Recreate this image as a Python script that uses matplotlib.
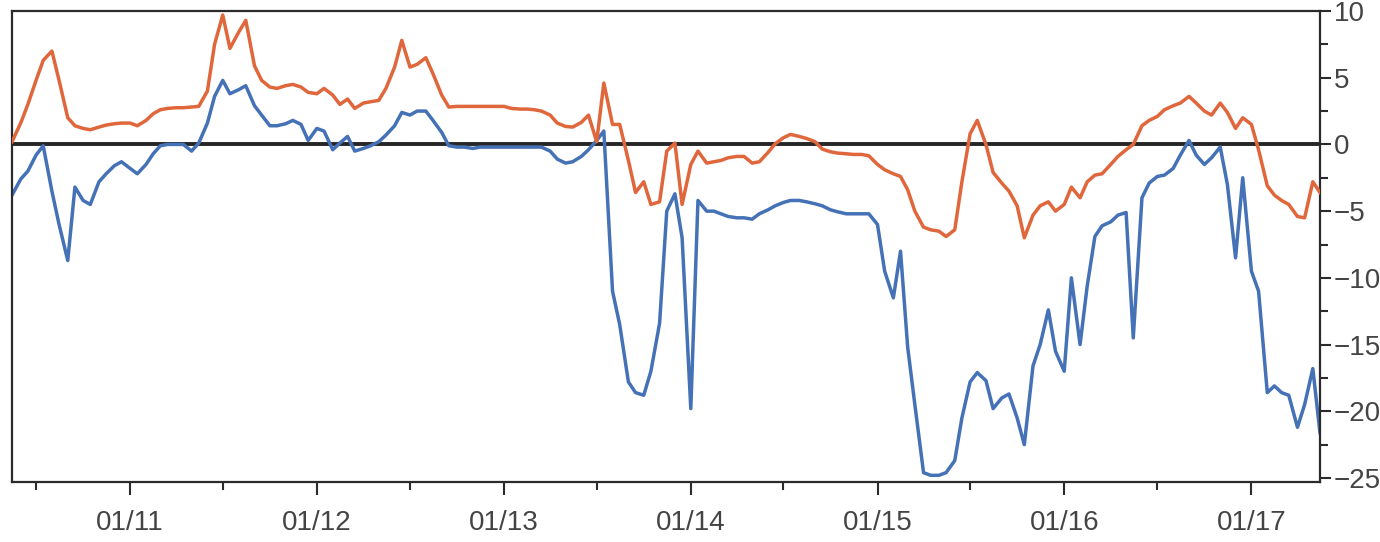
import numpy as np
import pandas as pd
import matplotlib
matplotlib.use('Agg')
import matplotlib.pyplot as plt
import matplotlib.dates as mdates
from matplotlib.ticker import MultipleLocator
from matplotlib import font_manager

# ---- data (semi-monthly readings, May 2010 - May 2017) ----
start_date = '2010-05-15'
end_date = '2017-05-15'

orange = [
    0.2, 1.6, 3.0, 4.8, 6.3, 7.0, 4.8, 2.0, 1.4, 1.2,
    1.1, 1.3, 1.45, 1.55, 1.6, 1.6, 1.4, 1.8, 2.3, 2.6,
    2.7, 2.75, 2.75, 2.8, 2.85, 4.0, 7.5, 9.7, 7.2, 8.4,
    9.3, 5.9, 4.8, 4.3, 4.2, 4.4, 4.5, 4.3, 3.9, 3.8,
    4.2, 3.7, 3.0, 3.4, 2.7, 3.1, 3.2, 3.3, 4.2, 5.8,
    7.8, 5.8, 6.0, 6.5, 5.3, 3.7, 2.8, 2.85, 2.85, 2.85,
    2.85, 2.85, 2.85, 2.85, 2.7, 2.65, 2.65, 2.6, 2.5, 2.2,
    1.6, 1.35, 1.3, 1.65, 2.2, 0.2, 4.6, 1.5, 1.5, -1.2,
    -3.6, -2.8, -4.5, -4.3, -0.5, 0.1, -4.5, -1.5, -0.5, -1.4,
    -1.3, -1.2, -1.0, -0.9, -0.9, -1.4, -1.3, -0.6, 0.05, 0.5,
    0.75, 0.6, 0.45, 0.2, -0.35, -0.55, -0.65, -0.7, -0.75, -0.75,
    -0.85, -1.5, -1.9, -2.2, -2.4, -3.4, -5.0, -6.2, -6.4, -6.5,
    -6.9, -6.4, -2.8, 0.8, 1.8, 0.0, -2.1, -2.9, -3.5, -4.6,
    -7.0, -5.3, -4.6, -4.3, -5.0, -4.5, -3.2, -4.0, -2.8, -2.3,
    -2.2, -1.5, -0.9, -0.4, 0.0, 1.4, 1.8, 2.1, 2.6, 2.9,
    3.1, 3.6, 3.1, 2.5, 2.2, 3.1, 2.4, 1.2, 2.0, 1.5,
    -0.4, -3.1, -3.8, -4.2, -4.5, -5.4, -5.5, -2.8, -3.6,
]

blue = [
    -3.8, -2.6, -2.0, -0.8, -0.1, -3.5, -6.0, -8.7, -3.2, -4.2,
    -4.5, -2.8, -2.2, -1.6, -1.3, -1.8, -2.2, -1.5, -0.7, -0.1,
    0.0, 0.0, 0.0, -0.5, 0.1, 1.6, 3.6, 4.8, 3.8, 4.1,
    4.4, 2.9, 2.2, 1.4, 1.4, 1.55, 1.8, 1.5, 0.3, 1.2,
    1.0, -0.4, 0.1, 0.6, -0.5, -0.3, -0.1, 0.2, 0.7, 1.4,
    2.4, 2.2, 2.5, 2.5, 1.8, 0.9, -0.1, -0.2, -0.2, -0.3,
    -0.2, -0.2, -0.2, -0.2, -0.2, -0.2, -0.2, -0.2, -0.2, -0.5,
    -1.1, -1.4, -1.3, -0.9, -0.4, 0.3, 1.0, -11.0, -13.5, -17.8,
    -18.6, -18.8, -17.0, -13.4, -5.0, -3.7, -7.0, -19.8, -4.2, -5.0,
    -5.0, -5.2, -5.4, -5.5, -5.5, -5.6, -5.2, -4.9, -4.6, -4.35,
    -4.2, -4.2, -4.3, -4.45, -4.6, -4.9, -5.05, -5.2, -5.2, -5.2,
    -5.2, -6.0, -9.5, -11.5, -8.0, -15.2, -19.5, -24.6, -24.8, -24.8,
    -24.6, -23.7, -20.5, -17.8, -17.1, -17.7, -19.8, -19.0, -18.7, -20.5,
    -22.5, -16.6, -15.0, -12.4, -15.5, -17.0, -10.0, -15.0, -10.6, -6.9,
    -6.1, -5.8, -5.3, -5.1, -14.5, -4.0, -2.9, -2.4, -2.3, -1.8,
    -0.8, 0.3, -0.8, -1.5, -1.0, -0.2, -3.0, -8.5, -2.5, -9.5,
    -11.0, -18.6, -18.1, -18.6, -18.8, -21.2, -19.5, -16.8, -21.6,
]

y_ticks = [-25, -20, -15, -10, -5, 0, 5, 10]
x_tick_years = [2011, 2012, 2013, 2014, 2015, 2016, 2017]

dates = pd.date_range(start_date, end_date, freq='SMS')
n = min(len(dates), len(orange), len(blue))
dates = dates[:n]

# ---- fonts ----
names = {f.name for f in font_manager.fontManager.ttflist}
if 'Liberation Sans Narrow' in names:
    fam, fs = 'Liberation Sans Narrow', 22
else:
    fam, fs = 'Liberation Sans', 20
plt.rcParams['font.family'] = [fam, 'DejaVu Sans']

ORANGE = '#E0663C'
BLUE = '#4571B6'
AXC = '#2b2b2b'
TXT = '#444444'

fig = plt.figure(figsize=(13.8, 5.42), dpi=100)
ax = fig.add_axes([0.0087, 0.1107, 0.9478, 0.869])

ax.axhline(0, color='#262626', lw=2.8, zorder=1)
ax.plot(dates, blue[:n], color=BLUE, lw=2.5, zorder=2)
ax.plot(dates, orange[:n], color=ORANGE, lw=2.5, zorder=3)

ax.set_xlim(pd.Timestamp(start_date), pd.Timestamp(end_date))
ax.set_ylim(-25.3, 10.0)

# y axis on the right
ax.yaxis.tick_right()
ax.set_yticks(y_ticks)
ax.yaxis.set_minor_locator(MultipleLocator(2.5))
ax.tick_params(axis='y', which='major', length=8, width=1.5, pad=2,
               labelsize=fs, colors=AXC, labelcolor=TXT)
ax.tick_params(axis='y', which='minor', length=6, width=1.5, colors=AXC)

# x axis
ax.set_xticks([pd.Timestamp(f'{y}-01-01') for y in x_tick_years])
ax.xaxis.set_major_formatter(mdates.DateFormatter('%m/%y'))
ax.set_xticks([pd.Timestamp(f'{y}-07-01') for y in range(2010, 2017)], minor=True)
ax.tick_params(axis='x', which='major', length=9, width=1.5, pad=11,
               labelsize=fs, colors=AXC, labelcolor=TXT)
ax.tick_params(axis='x', which='minor', length=6, width=1.5, colors=AXC)

for s in ax.spines.values():
    s.set_color(AXC)
    s.set_linewidth(1.6)

fig.savefig('out.png', dpi=100)
